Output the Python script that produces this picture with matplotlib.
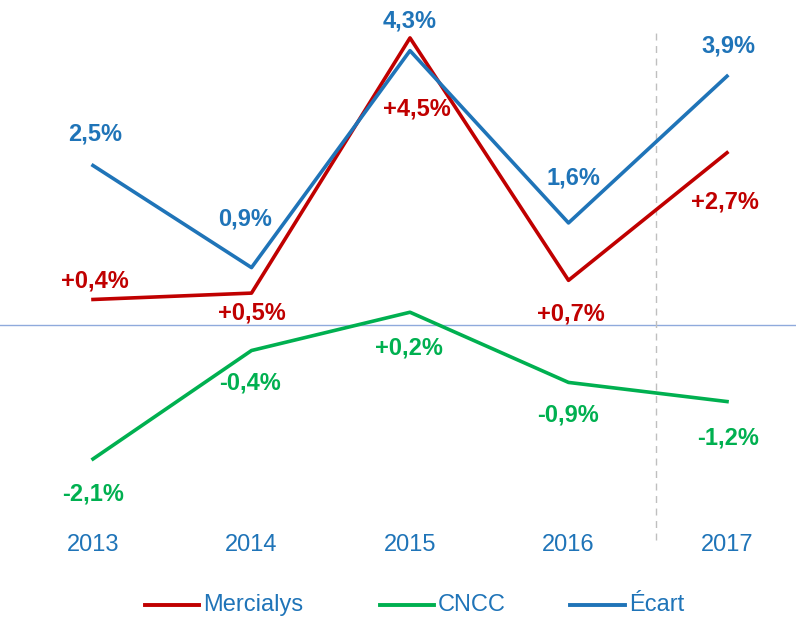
import matplotlib
matplotlib.use("Agg")
import matplotlib.pyplot as plt
from matplotlib.lines import Line2D
from matplotlib.transforms import blended_transform_factory

plt.rcParams['font.family'] = ['Liberation Sans', 'DejaVu Sans']

years = [2013, 2014, 2015, 2016, 2017]
mercialys = [0.4, 0.5, 4.5, 0.7, 2.7]
cncc = [-2.1, -0.4, 0.2, -0.9, -1.2]
ecart = [2.5, 0.9, 4.3, 1.6, 3.9]
mercialys_labels = ["+0,4%", "+0,5%", "+4,5%", "+0,7%", "+2,7%"]
cncc_labels = ["-2,1%", "-0,4%", "+0,2%", "-0,9%", "-1,2%"]
ecart_labels = ["2,5%", "0,9%", "4,3%", "1,6%", "3,9%"]
series_names = ["Mercialys", "CNCC", "Écart"]

RED = '#C00000'
GREEN = '#00B050'
BLUE = '#1F74B8'
TXT = '#1F74B8'

W, H = 796, 619
fig = plt.figure(figsize=(W/100, H/100), dpi=100)
ax = fig.add_axes([0, 0, 1, 1])
ax.set_axis_off()

px_per_year = 158.5
ax.set_xlim(2013 - 93/px_per_year, 2013 + (W - 93)/px_per_year)
px_per_pct = 63.8
ax.set_ylim(-(H - 325)/px_per_pct, 325/px_per_pct)

ax.axhline(0, color='#8FAADC', lw=1.0, zorder=1)
ax.axvline(2016 + (655-568)/px_per_year, ymin=79/H, ymax=(H-30)/H, color='#BFBFBF',
           lw=1.0, ls=(0, (5, 4)), zorder=1)

lw = 2.6
ax.plot(years, cncc, color=GREEN, lw=lw, zorder=3)
ax.plot(years, mercialys, color=RED, lw=lw, zorder=3)
ax.plot(years, ecart, color=BLUE, lw=lw, zorder=4)

fs = 17
ecart_off = [(2, 32), (-6, 49), (0, 30), (5, 45), (1, 30)]
merc_off = [(2, 18), (0, -20), (7, -71), (2, -34), (-2, -49)]
cncc_off = [(0, -35), (-1, -32), (-1, -36), (0, -33), (1, -36)]
for x, y, t, o in zip(years, ecart, ecart_labels, ecart_off):
    ax.annotate(t, (x, y), xytext=o, textcoords='offset pixels', ha='center', va='center',
                color=BLUE, fontsize=fs, fontweight='bold')
for x, y, t, o in zip(years, mercialys, mercialys_labels, merc_off):
    ax.annotate(t, (x, y), xytext=o, textcoords='offset pixels', ha='center', va='center',
                color=RED, fontsize=fs, fontweight='bold')
for x, y, t, o in zip(years, cncc, cncc_labels, cncc_off):
    ax.annotate(t, (x, y), xytext=o, textcoords='offset pixels', ha='center', va='center',
                color=GREEN, fontsize=fs, fontweight='bold')

tr = blended_transform_factory(ax.transData, fig.transFigure)
for yv in years:
    ax.text(yv, 1 - 545/H, str(yv), transform=tr, ha='center', va='center',
            color=TXT, fontsize=17)

# legend (manual)
ly = 1 - 605/H
for (x0, x1), col, name in zip([(145, 199), (380, 434), (570, 625)], [RED, GREEN, BLUE], series_names):
    fig.add_artist(Line2D([x0/W, x1/W], [ly, ly], transform=fig.transFigure, color=col, lw=2.8))
    fig.text((x1 + 4)/W, ly, name, ha='left', va='center', color=TXT, fontsize=17)

fig.savefig('out.png', dpi=100)
